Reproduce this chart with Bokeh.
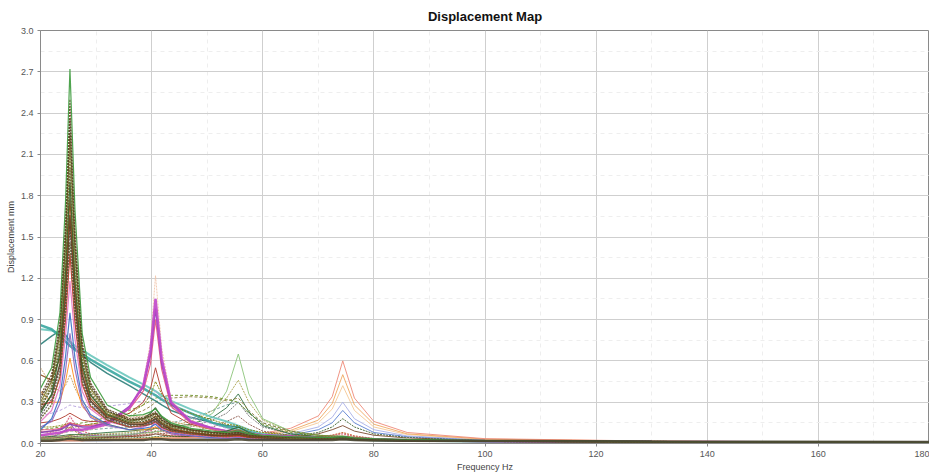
from bokeh.plotting import figure
from bokeh.models import FixedTicker, Range1d, NumeralTickFormatter
from bokeh.embed import file_html
from bokeh.resources import INLINE

# ---------------- data ----------------
FREQ = [20, 22, 23.5, 24.5, 25.3, 26.2, 27.5, 29, 32, 36,
        38.5, 39.8, 40.7, 41.8, 43.5, 47, 51, 53.5, 55.6, 57.5,
        60, 65, 70, 72.5, 74.4, 76.5, 80, 86, 100, 130, 180]

X_TICKS = [20, 40, 60, 80, 100, 120, 140, 160, 180]
Y_TICKS = [0.0, 0.3, 0.6, 0.9, 1.2, 1.5, 1.8, 2.1, 2.4, 2.7, 3.0]
X_MINOR = [30, 50, 70, 90, 110, 130, 150, 170]
Y_MINOR = [0.15, 0.45, 0.75, 1.05, 1.35, 1.65, 1.95, 2.25, 2.55, 2.85]

# first mode (~25 Hz)
m1_green = [0.40, 0.55, 0.95, 1.75, 2.72, 1.70, 0.80, 0.48, 0.28, 0.20,
            0.21, 0.23, 0.25, 0.20, 0.15, 0.11, 0.09, 0.08, 0.09, 0.07,
            0.06, 0.05, 0.045, 0.045, 0.05, 0.04, 0.035, 0.03, 0.022, 0.015, 0.008]
m1_brown = [0.35, 0.50, 0.88, 1.60, 2.50, 1.55, 0.74, 0.44, 0.25, 0.18,
            0.19, 0.21, 0.23, 0.18, 0.14, 0.10, 0.08, 0.07, 0.08, 0.06,
            0.05, 0.045, 0.04, 0.04, 0.045, 0.035, 0.03, 0.025, 0.02, 0.014, 0.007]
m1_umber = [0.33, 0.47, 0.84, 1.52, 2.36, 1.47, 0.70, 0.42, 0.24, 0.17,
            0.18, 0.20, 0.22, 0.17, 0.13, 0.10, 0.08, 0.07, 0.08, 0.06,
            0.05, 0.045, 0.04, 0.04, 0.045, 0.035, 0.03, 0.025, 0.02, 0.014, 0.007]
m1_olive = [0.30, 0.45, 0.80, 1.45, 2.25, 1.40, 0.66, 0.40, 0.23, 0.17,
            0.18, 0.20, 0.22, 0.17, 0.13, 0.10, 0.08, 0.08, 0.10, 0.07,
            0.05, 0.04, 0.035, 0.035, 0.04, 0.03, 0.028, 0.024, 0.019, 0.013, 0.007]
m1_khaki = [0.28, 0.42, 0.75, 1.38, 2.12, 1.32, 0.63, 0.38, 0.22, 0.16,
            0.17, 0.19, 0.21, 0.16, 0.12, 0.09, 0.075, 0.07, 0.08, 0.06,
            0.05, 0.04, 0.035, 0.035, 0.04, 0.03, 0.027, 0.023, 0.018, 0.012, 0.006]
m1_darkolive = [0.26, 0.40, 0.70, 1.30, 2.00, 1.25, 0.60, 0.36, 0.21, 0.15,
                0.16, 0.18, 0.19, 0.15, 0.12, 0.09, 0.07, 0.07, 0.08, 0.06,
                0.05, 0.04, 0.035, 0.035, 0.035, 0.03, 0.027, 0.023, 0.018, 0.012, 0.006]
m1_darkgreen = [0.22, 0.36, 0.66, 1.25, 1.90, 1.18, 0.57, 0.35, 0.21, 0.16,
                0.18, 0.22, 0.26, 0.19, 0.14, 0.10, 0.08, 0.09, 0.12, 0.08,
                0.05, 0.04, 0.035, 0.04, 0.045, 0.035, 0.028, 0.022, 0.018, 0.012, 0.006]
m1_sienna = [0.50, 0.46, 0.62, 1.15, 1.78, 1.12, 0.54, 0.33, 0.20, 0.15,
             0.15, 0.17, 0.20, 0.15, 0.11, 0.08, 0.065, 0.06, 0.06, 0.05,
             0.045, 0.04, 0.035, 0.035, 0.035, 0.03, 0.026, 0.022, 0.018, 0.012, 0.006]
m1_coffee = [0.24, 0.35, 0.58, 1.08, 1.66, 1.05, 0.50, 0.31, 0.19, 0.14,
             0.14, 0.16, 0.18, 0.14, 0.10, 0.08, 0.06, 0.06, 0.065, 0.05,
             0.045, 0.04, 0.035, 0.035, 0.035, 0.03, 0.025, 0.021, 0.017, 0.011, 0.006]
m1_gray = [0.20, 0.32, 0.55, 1.02, 1.58, 1.00, 0.48, 0.30, 0.18, 0.13,
           0.14, 0.15, 0.17, 0.13, 0.10, 0.075, 0.06, 0.06, 0.07, 0.05,
           0.04, 0.035, 0.03, 0.035, 0.04, 0.03, 0.025, 0.02, 0.016, 0.011, 0.006]
m1_drab = [0.18, 0.28, 0.50, 0.95, 1.46, 0.93, 0.45, 0.28, 0.17, 0.12,
           0.13, 0.14, 0.16, 0.12, 0.09, 0.07, 0.055, 0.05, 0.06, 0.045,
           0.04, 0.035, 0.03, 0.03, 0.035, 0.03, 0.024, 0.02, 0.016, 0.011, 0.005]
m1_red = [0.28, 0.30, 0.48, 0.90, 1.38, 0.88, 0.43, 0.27, 0.17, 0.12,
          0.13, 0.14, 0.16, 0.12, 0.09, 0.07, 0.055, 0.05, 0.055, 0.045,
          0.04, 0.035, 0.03, 0.035, 0.04, 0.03, 0.025, 0.02, 0.016, 0.011, 0.005]
m1_pink = [0.16, 0.24, 0.42, 0.78, 1.18, 0.76, 0.38, 0.25, 0.16, 0.12,
           0.12, 0.14, 0.15, 0.11, 0.085, 0.065, 0.05, 0.045, 0.05, 0.04,
           0.035, 0.03, 0.03, 0.03, 0.035, 0.03, 0.024, 0.02, 0.015, 0.01, 0.005]
m1_blue = [0.10, 0.18, 0.34, 0.63, 0.95, 0.62, 0.32, 0.21, 0.14, 0.10,
           0.11, 0.12, 0.14, 0.10, 0.08, 0.06, 0.045, 0.04, 0.045, 0.035,
           0.03, 0.03, 0.03, 0.04, 0.05, 0.035, 0.026, 0.02, 0.015, 0.01, 0.005]
m1_purple = [0.12, 0.16, 0.29, 0.53, 0.80, 0.54, 0.29, 0.19, 0.13, 0.10,
             0.12, 0.15, 0.18, 0.12, 0.08, 0.055, 0.04, 0.035, 0.04, 0.03,
             0.028, 0.025, 0.025, 0.03, 0.035, 0.028, 0.022, 0.018, 0.014, 0.009, 0.005]
m1_orange = [0.38, 0.30, 0.30, 0.45, 0.62, 0.44, 0.27, 0.20, 0.14, 0.10,
             0.10, 0.11, 0.12, 0.10, 0.08, 0.065, 0.05, 0.045, 0.05, 0.04,
             0.035, 0.03, 0.03, 0.03, 0.035, 0.03, 0.024, 0.02, 0.015, 0.01, 0.005]
m1_tan = [0.55, 0.42, 0.38, 0.42, 0.50, 0.40, 0.30, 0.25, 0.21, 0.19,
          0.20, 0.21, 0.22, 0.19, 0.16, 0.13, 0.10, 0.09, 0.10, 0.08,
          0.06, 0.05, 0.04, 0.04, 0.045, 0.035, 0.03, 0.024, 0.018, 0.012, 0.006]

# second mode (~41 Hz)
m2_magenta = [0.06, 0.07, 0.08, 0.09, 0.10, 0.10, 0.10, 0.11, 0.14, 0.26,
              0.42, 0.68, 1.05, 0.62, 0.30, 0.16, 0.11, 0.09, 0.09, 0.07,
              0.06, 0.05, 0.04, 0.04, 0.04, 0.035, 0.03, 0.024, 0.018, 0.012, 0.006]
m2_purple = [0.08, 0.09, 0.10, 0.12, 0.14, 0.13, 0.12, 0.12, 0.15, 0.27,
             0.41, 0.64, 0.98, 0.58, 0.29, 0.16, 0.11, 0.09, 0.09, 0.07,
             0.06, 0.05, 0.04, 0.04, 0.04, 0.035, 0.03, 0.024, 0.018, 0.012, 0.006]
m2_pink = [0.10, 0.10, 0.11, 0.13, 0.15, 0.14, 0.13, 0.13, 0.15, 0.25,
           0.38, 0.58, 0.90, 0.54, 0.27, 0.15, 0.10, 0.08, 0.08, 0.06,
           0.05, 0.045, 0.04, 0.04, 0.04, 0.035, 0.028, 0.022, 0.017, 0.011, 0.006]
m2_peach = [0.05, 0.06, 0.07, 0.08, 0.09, 0.09, 0.09, 0.10, 0.13, 0.26,
            0.44, 0.74, 1.22, 0.70, 0.32, 0.17, 0.11, 0.09, 0.09, 0.07,
            0.06, 0.05, 0.04, 0.04, 0.04, 0.035, 0.03, 0.024, 0.018, 0.012, 0.006]
m2_redbrown = [0.15, 0.16, 0.18, 0.20, 0.22, 0.20, 0.17, 0.16, 0.16, 0.22,
               0.30, 0.40, 0.55, 0.38, 0.22, 0.14, 0.10, 0.08, 0.08, 0.065,
               0.055, 0.045, 0.04, 0.04, 0.04, 0.035, 0.028, 0.022, 0.017, 0.011, 0.006]
m2_olive = [0.12, 0.12, 0.13, 0.14, 0.15, 0.14, 0.13, 0.14, 0.16, 0.22,
            0.28, 0.35, 0.45, 0.36, 0.28, 0.22, 0.17, 0.14, 0.13, 0.10,
            0.08, 0.06, 0.05, 0.05, 0.05, 0.04, 0.032, 0.025, 0.018, 0.012, 0.006]
m2_lavender = [0.20, 0.22, 0.24, 0.26, 0.28, 0.27, 0.26, 0.26, 0.27, 0.29,
               0.31, 0.34, 0.38, 0.33, 0.26, 0.19, 0.14, 0.11, 0.10, 0.08,
               0.06, 0.05, 0.04, 0.04, 0.04, 0.035, 0.03, 0.024, 0.018, 0.012, 0.006]

# broad plateau curves (~42-55 Hz)
pl_green = [0.10, 0.11, 0.12, 0.13, 0.14, 0.14, 0.15, 0.16, 0.19, 0.24,
            0.28, 0.31, 0.33, 0.34, 0.35, 0.35, 0.34, 0.32, 0.30, 0.22,
            0.14, 0.08, 0.06, 0.055, 0.055, 0.045, 0.035, 0.026, 0.019, 0.012, 0.006]
pl_khaki = [0.08, 0.09, 0.10, 0.11, 0.12, 0.12, 0.13, 0.14, 0.16, 0.20,
            0.24, 0.27, 0.30, 0.32, 0.33, 0.34, 0.33, 0.31, 0.33, 0.24,
            0.15, 0.09, 0.06, 0.055, 0.055, 0.045, 0.035, 0.026, 0.019, 0.012, 0.006]
pl_seagray = [0.05, 0.06, 0.07, 0.08, 0.09, 0.09, 0.09, 0.10, 0.11, 0.12,
              0.13, 0.14, 0.14, 0.14, 0.15, 0.18, 0.24, 0.28, 0.30, 0.22,
              0.15, 0.09, 0.06, 0.055, 0.05, 0.04, 0.032, 0.025, 0.018, 0.012, 0.006]

# third mode (~56 Hz)
m3_lightgreen = [0.03, 0.03, 0.035, 0.04, 0.04, 0.04, 0.045, 0.05, 0.055, 0.065,
                 0.075, 0.08, 0.085, 0.09, 0.10, 0.13, 0.22, 0.38, 0.65, 0.36,
                 0.18, 0.09, 0.06, 0.05, 0.05, 0.04, 0.032, 0.025, 0.018, 0.012, 0.006]
m3_khaki = [0.04, 0.045, 0.05, 0.055, 0.06, 0.06, 0.06, 0.065, 0.07, 0.08,
            0.09, 0.10, 0.11, 0.12, 0.13, 0.16, 0.24, 0.33, 0.46, 0.30,
            0.17, 0.09, 0.06, 0.05, 0.05, 0.04, 0.032, 0.025, 0.018, 0.012, 0.006]
m3_darkgreen = [0.05, 0.05, 0.055, 0.06, 0.065, 0.065, 0.065, 0.07, 0.08, 0.09,
                0.10, 0.10, 0.11, 0.11, 0.12, 0.14, 0.19, 0.26, 0.36, 0.23,
                0.13, 0.07, 0.05, 0.045, 0.045, 0.04, 0.03, 0.024, 0.018, 0.012, 0.006]
m3_gray = [0.04, 0.04, 0.045, 0.05, 0.05, 0.05, 0.055, 0.06, 0.065, 0.07,
           0.08, 0.08, 0.09, 0.09, 0.10, 0.12, 0.17, 0.22, 0.30, 0.20,
           0.12, 0.07, 0.05, 0.045, 0.045, 0.035, 0.03, 0.024, 0.018, 0.012, 0.006]
m3_brown = [0.03, 0.03, 0.035, 0.04, 0.04, 0.04, 0.045, 0.05, 0.05, 0.06,
            0.06, 0.065, 0.07, 0.07, 0.08, 0.09, 0.12, 0.16, 0.20, 0.14,
            0.09, 0.06, 0.045, 0.04, 0.04, 0.035, 0.028, 0.022, 0.017, 0.011, 0.006]

# fourth mode (~74 Hz)
m4_salmon = [0.02, 0.02, 0.02, 0.02, 0.02, 0.02, 0.02, 0.025, 0.03, 0.03,
             0.035, 0.035, 0.04, 0.04, 0.04, 0.045, 0.05, 0.055, 0.06, 0.065,
             0.075, 0.11, 0.20, 0.34, 0.60, 0.33, 0.16, 0.08, 0.035, 0.018, 0.008]
m4_lightorange = [0.02, 0.02, 0.02, 0.02, 0.02, 0.02, 0.02, 0.025, 0.03, 0.03,
                  0.03, 0.035, 0.035, 0.035, 0.04, 0.04, 0.045, 0.05, 0.055, 0.06,
                  0.07, 0.095, 0.17, 0.29, 0.50, 0.28, 0.14, 0.07, 0.032, 0.017, 0.008]
m4_peach = [0.02, 0.02, 0.02, 0.02, 0.02, 0.02, 0.02, 0.02, 0.025, 0.03,
            0.03, 0.03, 0.035, 0.035, 0.035, 0.04, 0.045, 0.05, 0.05, 0.055,
            0.065, 0.085, 0.15, 0.25, 0.42, 0.24, 0.12, 0.065, 0.03, 0.016, 0.008]
m4_lavender = [0.02, 0.02, 0.02, 0.02, 0.02, 0.02, 0.02, 0.02, 0.025, 0.025,
               0.03, 0.03, 0.03, 0.03, 0.035, 0.035, 0.04, 0.045, 0.05, 0.05,
               0.06, 0.07, 0.12, 0.19, 0.30, 0.18, 0.10, 0.055, 0.028, 0.015, 0.007]
m4_blue = [0.02, 0.02, 0.02, 0.02, 0.02, 0.02, 0.02, 0.02, 0.02, 0.025,
           0.025, 0.03, 0.03, 0.03, 0.03, 0.035, 0.04, 0.045, 0.05, 0.05,
           0.055, 0.06, 0.10, 0.15, 0.24, 0.15, 0.08, 0.05, 0.026, 0.014, 0.007]
m4_darkgreen = [0.03, 0.03, 0.03, 0.03, 0.035, 0.035, 0.035, 0.035, 0.04, 0.04,
                0.045, 0.045, 0.05, 0.05, 0.05, 0.05, 0.055, 0.06, 0.07, 0.06,
                0.055, 0.05, 0.08, 0.12, 0.18, 0.12, 0.07, 0.045, 0.025, 0.014, 0.007]
m4_brown = [0.04, 0.04, 0.045, 0.05, 0.06, 0.05, 0.045, 0.045, 0.045, 0.05,
            0.055, 0.06, 0.07, 0.06, 0.055, 0.05, 0.05, 0.055, 0.07, 0.055,
            0.045, 0.045, 0.07, 0.10, 0.13, 0.09, 0.06, 0.04, 0.024, 0.013, 0.007]

# slowly decaying curves (teal)
tl_teal = [0.86, 0.83, 0.78, 0.74, 0.71, 0.68, 0.65, 0.61, 0.54, 0.45,
           0.40, 0.37, 0.35, 0.32, 0.28, 0.22, 0.15, 0.12, 0.10, 0.08,
           0.06, 0.045, 0.04, 0.035, 0.035, 0.03, 0.026, 0.022, 0.017, 0.011, 0.006]
tl_lightteal = [0.83, 0.82, 0.80, 0.77, 0.74, 0.71, 0.68, 0.64, 0.57, 0.48,
                0.43, 0.40, 0.38, 0.35, 0.31, 0.25, 0.19, 0.16, 0.13, 0.10,
                0.07, 0.05, 0.04, 0.035, 0.035, 0.03, 0.026, 0.022, 0.017, 0.011, 0.006]
tl_darkteal = [0.72, 0.78, 0.82, 0.79, 0.74, 0.69, 0.64, 0.59, 0.51, 0.42,
               0.36, 0.33, 0.31, 0.28, 0.24, 0.19, 0.15, 0.13, 0.12, 0.09,
               0.06, 0.045, 0.04, 0.035, 0.035, 0.03, 0.026, 0.022, 0.017, 0.011, 0.006]

# low-level curves
lo_yellow = [0.03, 0.03, 0.035, 0.04, 0.05, 0.04, 0.035, 0.03, 0.03, 0.03,
             0.035, 0.04, 0.045, 0.04, 0.035, 0.03, 0.03, 0.035, 0.04, 0.035,
             0.03, 0.03, 0.03, 0.035, 0.04, 0.03, 0.025, 0.02, 0.016, 0.011, 0.006]
lo_rust = [0.06, 0.05, 0.07, 0.09, 0.12, 0.09, 0.06, 0.05, 0.045, 0.05,
           0.06, 0.07, 0.09, 0.07, 0.055, 0.05, 0.05, 0.055, 0.07, 0.055,
           0.045, 0.04, 0.045, 0.06, 0.08, 0.055, 0.035, 0.025, 0.02, 0.014, 0.008]
lo_rose = [0.09, 0.08, 0.10, 0.14, 0.20, 0.14, 0.09, 0.07, 0.06, 0.06,
           0.07, 0.09, 0.12, 0.09, 0.07, 0.06, 0.055, 0.06, 0.08, 0.06,
           0.05, 0.045, 0.05, 0.06, 0.07, 0.05, 0.035, 0.025, 0.02, 0.014, 0.008]
lo_violet = [0.04, 0.05, 0.07, 0.10, 0.15, 0.10, 0.07, 0.06, 0.05, 0.06,
             0.08, 0.11, 0.16, 0.11, 0.07, 0.05, 0.045, 0.045, 0.05, 0.04,
             0.035, 0.03, 0.035, 0.04, 0.05, 0.035, 0.028, 0.022, 0.017, 0.012, 0.007]
lo_dark = [0.02, 0.02, 0.025, 0.03, 0.035, 0.03, 0.025, 0.025, 0.025, 0.025,
           0.025, 0.03, 0.03, 0.03, 0.025, 0.025, 0.025, 0.025, 0.03, 0.025,
           0.025, 0.025, 0.025, 0.025, 0.03, 0.025, 0.022, 0.02, 0.018, 0.014, 0.01]

# ---------------- styles ----------------
STYLES = [
    (lo_yellow, "#e3c93a", 1.5, "solid"),
    (lo_rust, "#c4662c", 1.2, "2 1"),
    (lo_rose, "#d8607a", 1.2, "2 1"),
    (lo_violet, "#a05cc0", 1.2, "solid"),
    (m4_brown, "#7b4a2e", 1.0, "solid"),
    (m4_darkgreen, "#3a5f2a", 1.0, "2 1"),
    (m4_blue, "#5b7fd0", 1.0, "solid"),
    (m4_lavender, "#aab0e8", 1.0, "solid"),
    (m4_peach, "#f5c996", 1.0, "solid"),
    (m4_lightorange, "#f0a860", 1.0, "solid"),
    (m4_salmon, "#ee8a78", 1.0, "solid"),
    (m3_brown, "#8c564b", 1.0, "2 1"),
    (m3_gray, "#707070", 1.0, "2 1"),
    (m3_darkgreen, "#2f6f3f", 1.0, "solid"),
    (m3_khaki, "#a8a24e", 1.0, "2 1"),
    (m3_lightgreen, "#8cc47a", 1.0, "solid"),
    (pl_seagray, "#6f9e98", 1.0, "3 2"),
    (pl_khaki, "#8b7d3a", 1.0, "3 2"),
    (pl_green, "#6b8e23", 1.0, "3 2"),
    (tl_darkteal, "#2d7f7a", 1.5, "solid"),
    (tl_lightteal, "#6cc6bd", 2.0, "solid"),
    (tl_teal, "#3aa6a0", 2.5, "solid"),
    (m2_lavender, "#b49ddb", 1.0, "3 2"),
    (m2_olive, "#808000", 1.0, "2 1"),
    (m2_redbrown, "#b03a2e", 1.0, "solid"),
    (m2_peach, "#f2c4a8", 1.0, "2 1"),
    (m2_pink, "#e75480", 1.2, "solid"),
    (m2_purple, "#8a3fb5", 1.5, "solid"),
    (m2_magenta, "#c046c8", 2.5, "solid"),
    (m1_tan, "#c8a165", 1.0, "2 1"),
    (m1_orange, "#ff8c1a", 1.0, "solid"),
    (m1_purple, "#9467bd", 1.2, "solid"),
    (m1_blue, "#3a6fc4", 1.2, "solid"),
    (m1_pink, "#e377c2", 1.2, "solid"),
    (m1_red, "#d62728", 1.2, "solid"),
    (m1_drab, "#6b6b35", 1.5, "2 1"),
    (m1_gray, "#505050", 1.2, "2 1"),
    (m1_coffee, "#5a3d22", 1.5, "solid"),
    (m1_sienna, "#8b4513", 1.2, "solid"),
    (m1_darkgreen, "#2e6b2e", 1.2, "solid"),
    (m1_darkolive, "#4b5320", 1.5, "2 1"),
    (m1_khaki, "#8a7f45", 1.5, "2 1"),
    (m1_olive, "#7a7a2a", 1.2, "solid"),
    (m1_umber, "#4e3b24", 1.5, "2 1"),
    (m1_brown, "#6b4a2a", 1.2, "2 1"),
    (m1_green, "#3c9a3c", 1.2, "solid"),
    (lo_dark, "#4a4632", 2.5, "solid"),
]

FONT = "Liberation Sans"

p = figure(frame_width=889, frame_height=413, output_backend="svg", toolbar_location=None,
           x_range=Range1d(20, 180), y_range=Range1d(0, 3.0),
           title="Displacement Map",
           min_border_left=40, min_border_right=0, min_border_top=29, min_border_bottom=31)

for ys, color, width, dash in STYLES:
    p.line(FREQ, ys, line_color=color, line_width=width, line_dash=dash, line_alpha=0.9)

p.title.align = "center"
p.title.text_font = FONT
p.title.text_font_size = "13px"
p.title.text_font_style = "bold"
p.title.text_color = "#111111"
p.title.offset = 0
p.title.standoff = 13

p.xaxis.ticker = FixedTicker(ticks=X_TICKS, minor_ticks=X_MINOR)
p.yaxis.ticker = FixedTicker(ticks=Y_TICKS, minor_ticks=Y_MINOR)
p.yaxis.formatter = NumeralTickFormatter(format="0.0")
p.xaxis.formatter = NumeralTickFormatter(format="0")
p.xaxis.axis_label = "Frequency Hz"
p.yaxis.axis_label = "Displacement mm"
for ax in (p.xaxis, p.yaxis):
    ax.axis_label_text_font = FONT
    ax.axis_label_text_font_size = "9px"
    ax.axis_label_text_font_style = "normal"
    ax.axis_label_text_color = "#444444"
    ax.major_label_text_font = FONT
    ax.major_label_text_font_size = "9px"
    ax.major_label_text_color = "#555555"
    ax.axis_line_color = "#8a8a8a"
    ax.major_tick_line_color = "#8a8a8a"
    ax.major_tick_out = 3
    ax.major_tick_in = 0
    ax.minor_tick_line_color = None
    ax.major_label_standoff = 3
    ax.axis_label_standoff = 2

p.xgrid.grid_line_color = "#cfcfcf"
p.ygrid.grid_line_color = "#cfcfcf"
p.xgrid.minor_grid_line_color = "#eeeeee"
p.ygrid.minor_grid_line_color = "#eeeeee"
p.xgrid.minor_grid_line_dash = "4 4"
p.ygrid.minor_grid_line_dash = "4 4"
p.outline_line_color = "#8a8a8a"
p.background_fill_color = "white"
p.border_fill_color = "white"

open("out.html", "w").write(file_html(p, INLINE))
